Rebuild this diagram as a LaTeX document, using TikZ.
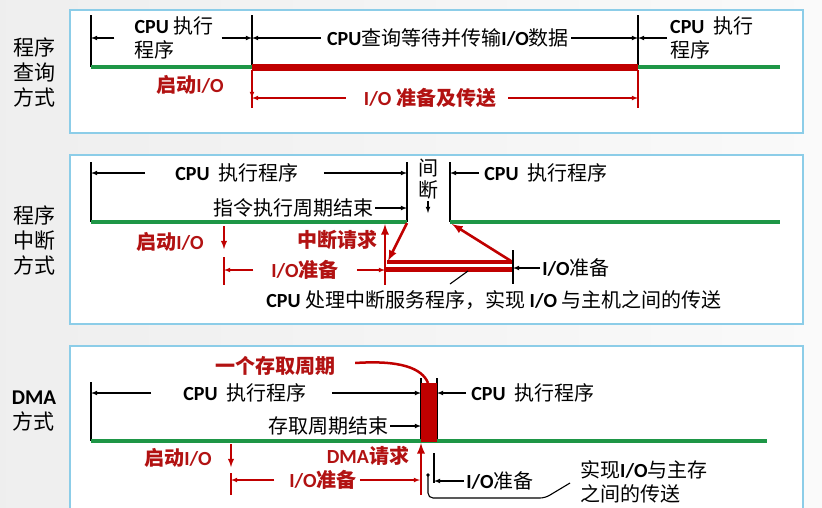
\documentclass[tikz,border=0pt]{standalone}
\usepackage{fontspec}
\setmainfont{Noto Sans CJK SC}
\newfontfamily\enfont{Carlito}
\definecolor{lgreen}{RGB}{30,150,70}
\definecolor{dred}{RGB}{192,0,0}
\definecolor{tred}{RGB}{178,18,18}
\definecolor{lblue}{RGB}{140,205,232}
\newcommand{\CPU}{{\enfont\bfseries CPU}}
\newcommand{\IO}{{\enfont\bfseries I/O}}
\newcommand{\DMA}{{\enfont\bfseries DMA}}
\begin{document}
\begin{tikzpicture}[x=1pt,y=-1pt,
	every node/.style={inner sep=0pt,font=\fontsize{20}{24}\selectfont},
	panel/.style={draw=lblue,line width=1.5pt,fill=white},
	side/.style={align=center,font=\fontsize{21}{25}\selectfont},
	rtxt/.style={text=tred,font=\fontsize{20}{24}\selectfont\bfseries},
	tickline/.style={line width=1.6pt},
	rtickline/.style={line width=1.6pt,draw=dred},
	cpuline/.style={draw=lgreen,line width=3.5pt},
	ioline/.style={draw=dred,line width=7pt},
	arr/.style={-latex,line width=1.1pt},
	rarr/.style={-latex,line width=1.1pt,draw=dred,fill=dred},
	thickarr/.style={-latex,line width=2.6pt,draw=dred,fill=dred}]
	\useasboundingbox (0,0) rectangle (822,507);
	\clip (0,0) rectangle (822,507);
	\shade[left color=gray!13,right color=gray!4] (0,0) rectangle (822,507);
	% panel 1
	\draw[panel] (70,10) rectangle (803,133);
	\node[side] (way1) at (34,72) {程序\\查询\\方式};
	\coordinate (a0) at (91,15);
	\coordinate (a1) at (252,15);
	\coordinate (a2) at (638,15);
	\draw[tickline] (a0) -- (91,67);
	\draw[tickline] (a1) -- (252,67);
	\draw[tickline] (a2) -- (638,67);
	\draw[cpuline] (91,67) -- (252,67);
	\draw[cpuline] (638,67) -- (780,67);
	\draw[ioline] (252,67) -- (638,67);
	\draw[rtickline] (252,70) -- (252,108);
	\draw[rtickline] (638,70) -- (638,108);
	\draw[rarr] (252,72) -- (252,98);
	\node[align=left] (run1a) at (174,38) {\CPU\ 执行\\程序};
	\draw[arr] ([xshift=-20pt]run1a.west) -- (run1a.west -| a0);
	\draw[arr] ([xshift=8pt]run1a.east) -- (run1a.east -| a1);
	\node (wait1) at (448,38) {\CPU 查询等待并传输\IO 数据};
	\draw[arr] ([xshift=-6pt]wait1.west) -- (wait1.west -| a1);
	\draw[arr] ([xshift=2pt]wait1.east) -- (wait1.east -| a2);
	\node[align=left,anchor=west] (run1b) at (670,38) {\CPU\ \ 执行\\程序};
	\draw[arr] ([xshift=-3pt]run1b.west) -- (run1b.west -| a2);
	\node[rtxt] (start1) at (190,85) {启动\IO};
	\node[rtxt] (prep1) at (430,98) {\IO\ 准备及传送};
	\draw[rarr] ([xshift=-18pt]prep1.west) -- (prep1.west -| a1);
	\draw[rarr] ([xshift=12pt]prep1.east) -- (prep1.east -| a2);
	% panel 2
	\draw[panel] (70,155) rectangle (803,324);
	\node[side] (way2) at (34,240) {程序\\中断\\方式};
	\coordinate (b0) at (91,162);
	\coordinate (b1) at (407,162);
	\coordinate (b2) at (450,162);
	\draw[tickline] (b0) -- (91,222);
	\draw[tickline] (b1) -- (407,222);
	\draw[tickline] (b2) -- (450,222);
	\draw[cpuline] (91,222) -- (407,222);
	\draw[cpuline] (450,222) -- (780,222);
	\node (run2a) at (237,173) {\CPU\ \ 执行程序};
	\draw[arr] ([xshift=-30pt]run2a.west) -- (run2a.west -| b0);
	\draw[arr] ([xshift=25pt]run2a.east) -- (run2a.east -| b1);
	\node (end2) at (293,208) {指令执行周期结束};
	\draw[arr] ([xshift=2pt]end2.east) -- (end2.east -| b1);
	\node[align=center,font=\fontsize{20}{22}\selectfont] (gap2) at (428,179) {间\\断};
	\draw[arr] ([yshift=-2pt]gap2.south) -- (428,213);
	\node (run2b) at (546,173) {\CPU\ \ 执行程序};
	\draw[arr] ([xshift=-5pt]run2b.west) -- (run2b.west -| b2);
	\node[rtxt] (start2) at (170,242) {启动\IO};
	\draw[rarr,line width=1.8pt] (224,226) -- (224,249);
	\draw[rtickline] (224,257) -- (224,285);
	\node[rtxt] (prep2) at (305,270) {\IO 准备};
	\coordinate (req2) at (385,270);
	\draw[rarr] ([xshift=-18pt]prep2.west) -- (prep2.west -| 224,0);
	\draw[rarr] ([xshift=18pt]prep2.east) -- (req2);
	\node[rtxt] (irq2) at (337,240) {中断请求};
	\draw[rtickline] (385,262) -- (385,285);
	\draw[thickarr] (385,262) -- (385,224);
	\draw[thickarr] (407,223) -- (388,261);
	\draw[dred,line width=4.5pt] (387,262) -- (513,262);
	\draw[dred,line width=4.5pt] (385,269.5) -- (513,269.5);
	\draw[thickarr] (511,261) -- (452,224);
	\draw[tickline] (513,250) -- (513,284);
	\node (ready2) at (576,268) {\IO 准备};
	\draw[arr] ([xshift=-2pt]ready2.west) -- (513,268);
	\node (isr2) at (494,300) {\CPU\ 处理中断服务程序，实现 \IO\ 与主机之间的传送};
	\draw[line width=1.1pt] (450,284) -- (468,271);
	% panel 3
	\draw[panel] (70,346) rectangle (803,530);
	\node[side] (way3) at (34,411) {\DMA\\方式};
	\coordinate (c0) at (91,382);
	\coordinate (c1) at (421,378);
	\coordinate (c2) at (437,378);
	\draw[tickline] (c0) -- (91,441);
	\draw[tickline] (c1) -- (421,441);
	\draw[tickline] (c2) -- (437,441);
	\draw[cpuline] (91,441) -- (767,441);
	\fill[dred] (421,383) rectangle (437,442);
	\node[rtxt] (cycle3) at (275,366) {一个存取周期};
	\draw[dred,line width=2.5pt] (cycle3.east) ++(20,-3) .. controls (400,360) and (422,368) .. (428,383);
	\node (run3a) at (245,393) {\CPU\ \ 执行程序};
	\draw[arr] ([xshift=-32pt]run3a.west) -- (run3a.west -| c0);
	\draw[arr] ([xshift=25pt]run3a.east) -- (run3a.east -| c1);
	\node (end3) at (328,426) {存取周期结束};
	\draw[arr] ([xshift=2pt]end3.east) -- (end3.east -| c1);
	\node (run3b) at (533,393) {\CPU\ \ 执行程序};
	\draw[arr] ([xshift=-5pt]run3b.west) -- (run3b.west -| c2);
	\node[rtxt] (start3) at (178,458) {启动\IO};
	\draw[rarr,line width=1.8pt] (231,444) -- (231,467);
	\draw[rtickline] (231,473) -- (231,495);
	\node[rtxt] (prep3) at (323,480) {\IO 准备};
	\draw[rarr] ([xshift=-15pt]prep3.west) -- (231,480);
	\draw[rarr] ([xshift=3pt]prep3.east) -- (420,480);
	\node[rtxt] (dreq3) at (368,456) {\DMA 请求};
	\draw[rtickline] (421,468) -- (421,495);
	\draw[thickarr] (421,470) -- (421,443);
	\draw[tickline] (434,453) -- (434,483);
	\node (ready3) at (500,481) {\IO 准备};
	\draw[arr] ([xshift=-2pt]ready3.west) -- (434,481);
	\node[align=left,anchor=west] (xfer3) at (580,482) {实现\IO 与主存\\之间的传送};
	\fill (428,475) circle (1.8);
	\draw[line width=1.1pt,rounded corners=5pt] (428,475) -- (428,498) -- (545,498) -- (570,483);
\end{tikzpicture}
\end{document}
